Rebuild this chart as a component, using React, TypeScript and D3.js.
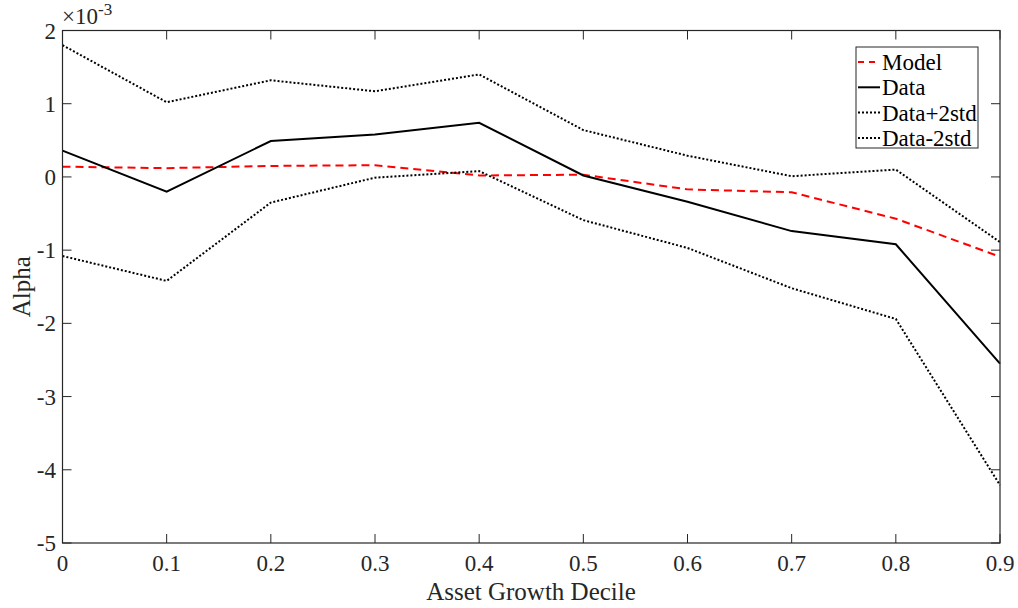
import React from "react";
import { scaleLinear, line } from "d3";

const deciles = [0, 0.1, 0.2, 0.3, 0.4, 0.5, 0.6, 0.7, 0.8, 0.9];
const xTicks = [0, 0.1, 0.2, 0.3, 0.4, 0.5, 0.6, 0.7, 0.8, 0.9];
const yTicks = [2, 1, 0, -1, -2, -3, -4, -5];

// values in units of 1e-3
const model = [0.14, 0.12, 0.15, 0.16, 0.02, 0.03, -0.17, -0.21, -0.57, -1.09];
const data = [0.36, -0.2, 0.49, 0.58, 0.74, 0.02, -0.34, -0.74, -0.92, -2.55];
const dataPlus = [1.8, 1.02, 1.32, 1.17, 1.4, 0.64, 0.29, 0.01, 0.1, -0.89];
const dataMinus = [-1.08, -1.42, -0.35, -0.01, 0.08, -0.59, -0.97, -1.52, -1.94, -4.21];

const series = [
  { name: "Model", values: model, color: "#ff0000", dash: "8,5" },
  { name: "Data", values: data, color: "#000", dash: null },
  { name: "Data+2std", values: dataPlus, color: "#000", dash: "2,2" },
  { name: "Data-2std", values: dataMinus, color: "#000", dash: "2,2" },
];

export default function App() {
  const width = 1018;
  const height = 608;
  const margin = { left: 62.5, right: 18, top: 30.5, bottom: 65 };
  const x = scaleLinear().domain([0, 0.9]).range([margin.left, width - margin.right]);
  const y = scaleLinear().domain([-5, 2]).range([height - margin.bottom, margin.top]);
  const axisColor = "#262626";
  const font = "'Liberation Serif', 'Times New Roman', serif";

  const path = line<number>()
    .x((_, i) => x(deciles[i]))
    .y((d) => y(d));

  const x0 = x(0), x1 = x(0.9), y0 = y(-5), y1 = y(2);
  const tick = 9;

  return (
    <svg
      width={width}
      height={height}
      style={{ position: "absolute", left: 0, top: 0 }}
      fontFamily={font}
    >
      <rect width={width} height={height} fill="#fff" />
      {series.map((s) => (
        <path
          key={s.name}
          d={path(s.values) || ""}
          fill="none"
          stroke={s.color}
          strokeWidth={2}
          strokeDasharray={s.dash || undefined}
        />
      ))}
      {/* box */}
      <rect x={x0} y={y1} width={x1 - x0} height={y0 - y1} fill="none" stroke={axisColor} strokeWidth={1.2} />
      {xTicks.map((t) => (
        <g key={"x" + t}>
          <line x1={x(t)} x2={x(t)} y1={y0} y2={y0 - tick} stroke={axisColor} />
          <line x1={x(t)} x2={x(t)} y1={y1} y2={y1 + tick} stroke={axisColor} />
          <text x={x(t)} y={571} textAnchor="middle" fontSize={23} fill={axisColor}>
            {String(t)}
          </text>
        </g>
      ))}
      {yTicks.map((t) => (
        <g key={"y" + t}>
          <line x1={x0} x2={x0 + tick} y1={y(t)} y2={y(t)} stroke={axisColor} />
          <line x1={x1} x2={x1 - tick} y1={y(t)} y2={y(t)} stroke={axisColor} />
          <text x={56} y={y(t) + 8} textAnchor="end" fontSize={23} fill={axisColor}>
            {String(t)}
          </text>
        </g>
      ))}
      <text x={62} y={24} fontSize={23} fill={axisColor}>
        ×10
        <tspan dy={-9} fontSize={17}>-3</tspan>
      </text>
      <text x={531} y={600} textAnchor="middle" fontSize={25} fill={axisColor}>
        Asset Growth Decile
      </text>
      <text
        transform={`translate(30,${(y0 + y1) / 2}) rotate(-90)`}
        textAnchor="middle"
        fontSize={25}
        fill={axisColor}
      >
        Alpha
      </text>
      {/* legend */}
      <rect x={856} y={47} width={122} height={101} fill="#fff" stroke={axisColor} strokeWidth={1} />
      {series.map((s, i) => {
        const cy = 62 + i * 25.3;
        return (
          <g key={"leg" + s.name}>
            <line
              x1={858}
              x2={880}
              y1={cy}
              y2={cy}
              stroke={s.color}
              strokeWidth={2}
              strokeDasharray={s.name === "Model" ? "6,5" : s.dash || undefined}
            />
            <text x={882} y={cy + 8} fontSize={23} fill="#000">
              {s.name}
            </text>
          </g>
        );
      })}
    </svg>
  );
}
